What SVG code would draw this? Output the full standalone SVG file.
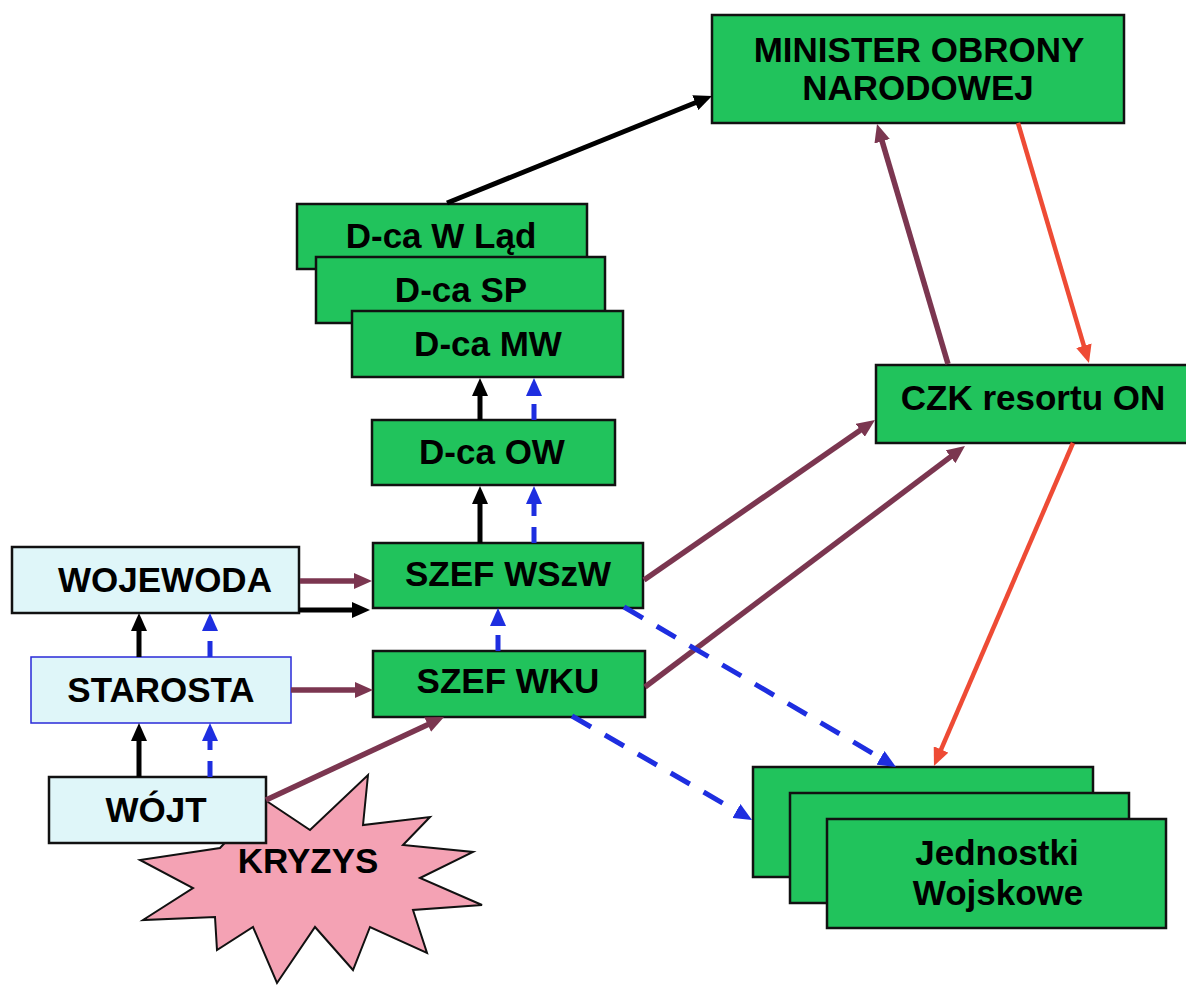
<svg xmlns="http://www.w3.org/2000/svg" width="1186" height="986" viewBox="0 0 1186 986">
  <style>
    .g { fill: #21c35c; stroke: #111; stroke-width: 2.5; }
    .lb { fill: #dff6f9; stroke: #111; stroke-width: 2.5; }
    .lbb { fill: #dff6f9; stroke: #2a2ad8; stroke-width: 1.5; }
    .t { font-family: "Liberation Sans", Arial, sans-serif; font-weight: bold; font-size: 35px; fill: #000; text-anchor: middle; }
    .k { stroke: #000; stroke-width: 5; fill: none; marker-end: url(#ak); }
    .br { stroke: #7b3650; stroke-width: 5.5; fill: none; marker-end: url(#abr); }
    .rd { stroke: #ee4b35; stroke-width: 4.5; fill: none; marker-end: url(#ard); }
    .bl { stroke: #1e2ee0; stroke-width: 5; fill: none; stroke-dasharray: 16 11; marker-end: url(#abl); }
    .bld { stroke-dasharray: 22 16; }
  </style>
  <defs>
    <marker id="ak" markerUnits="userSpaceOnUse" viewBox="0 0 18 16" markerWidth="18" markerHeight="16" refX="4" refY="8" orient="auto"><path d="M0,0 L18,8 L0,16 z" fill="#000"/></marker>
    <marker id="abr" markerUnits="userSpaceOnUse" viewBox="0 0 18 16" markerWidth="18" markerHeight="16" refX="4" refY="8" orient="auto"><path d="M0,0 L18,8 L0,16 z" fill="#7b3650"/></marker>
    <marker id="ard" markerUnits="userSpaceOnUse" viewBox="0 0 18 16" markerWidth="18" markerHeight="16" refX="4" refY="8" orient="auto"><path d="M0,0 L18,8 L0,16 z" fill="#ee4b35"/></marker>
    <marker id="abl" markerUnits="userSpaceOnUse" viewBox="0 0 18 16" markerWidth="18" markerHeight="16" refX="4" refY="8" orient="auto"><path d="M0,0 L18,8 L0,16 z" fill="#1e2ee0"/></marker>
  </defs>
  <rect width="1186" height="986" fill="#fff"/>

  <!-- crisis burst -->
  <g id="kryzys">
    <polygon points="368,775 363,825 430,817 403,845 473,852 420,878 482,905 413,910 427,953 370,927 353,970 315,927 277,983 253,927 217,950 215,917 143,920 193,888 140,860 220,848 265,800 310,830" fill="#f4a2b4" stroke="#111" stroke-width="2"/>
    <text class="t" x="308" y="873">KRYZYS</text>
  </g>

  <g id="minister">
    <rect class="g" x="712" y="15" width="412" height="108"/>
    <text class="t" x="919" y="62">MINISTER OBRONY</text>
    <text class="t" x="918" y="100">NARODOWEJ</text>
  </g>

  <g id="dca-wlad">
    <rect class="g" x="297" y="204" width="290" height="65"/>
    <text class="t" x="441" y="248">D-ca W Ląd</text>
  </g>
  <g id="dca-sp">
    <rect class="g" x="316" y="257" width="289" height="66"/>
    <text class="t" x="461" y="302">D-ca SP</text>
  </g>
  <g id="dca-mw">
    <rect class="g" x="352" y="311" width="271" height="66"/>
    <text class="t" x="488" y="356">D-ca MW</text>
  </g>
  <g id="dca-ow">
    <rect class="g" x="372" y="420" width="243" height="65"/>
    <text class="t" x="492" y="464">D-ca OW</text>
  </g>
  <g id="szef-wszw">
    <rect class="g" x="373" y="543" width="270" height="65"/>
    <text class="t" x="508" y="586">SZEF WSzW</text>
  </g>
  <g id="szef-wku">
    <rect class="g" x="373" y="651" width="272" height="66"/>
    <text class="t" x="508" y="693">SZEF WKU</text>
  </g>

  <g id="wojewoda">
    <rect class="lb" x="12" y="547" width="287" height="66"/>
    <text class="t" x="165" y="592">WOJEWODA</text>
  </g>
  <g id="starosta">
    <rect class="lbb" x="31" y="657" width="260" height="66"/>
    <text class="t" x="161" y="702">STAROSTA</text>
  </g>
  <g id="wojt">
    <rect class="lb" x="49" y="777" width="217" height="66"/>
    <text class="t" x="156" y="822">WÓJT</text>
  </g>

  <g id="czk">
    <rect class="g" x="876" y="365" width="312" height="78"/>
    <text class="t" x="1033" y="410">CZK resortu ON</text>
  </g>

  <g id="jednostki">
    <rect class="g" x="753" y="767" width="340" height="110"/>
    <rect class="g" x="790" y="793" width="339" height="110"/>
    <rect class="g" x="827" y="819" width="339" height="109"/>
    <text class="t" x="997" y="865">Jednostki</text>
    <text class="t" x="998" y="905">Wojskowe</text>
  </g>

  <g id="connectors">
    <!-- reporting up the chain -->
    <line class="k" x1="447" y1="203" x2="699" y2="101.2"/>
    <line class="br" x1="948" y1="364" x2="881" y2="137.4"/>
    <line class="rd" x1="1018" y1="123" x2="1085" y2="349.6"/>
    <line class="br" x1="644" y1="580" x2="863.5" y2="428"/>
    <line class="br" x1="645" y1="687" x2="953.8" y2="454.4"/>
    <line class="rd" x1="1073" y1="443" x2="939.5" y2="753.1"/>
    <line class="bl bld" x1="624" y1="607" x2="883.9" y2="759.9"/>
    <line class="bl bld" x1="572" y1="716" x2="739.9" y2="813"/>
    <line class="br" x1="266" y1="800" x2="431.3" y2="722.9"/>

    <!-- administration to military offices -->
    <line class="br" x1="300" y1="581" x2="358" y2="581"/>
    <line class="k" x1="299" y1="610" x2="356" y2="610"/>
    <line class="br" x1="291" y1="690" x2="359" y2="690"/>

    <!-- vertical chains -->
    <line class="k" x1="139" y1="777" x2="139" y2="737"/>
    <line class="bl" x1="210" y1="777" x2="210" y2="737"/>
    <line class="k" x1="139" y1="657" x2="139" y2="627"/>
    <line class="bl" x1="210" y1="657" x2="210" y2="627"/>
    <line class="bl" x1="498" y1="651" x2="498" y2="622"/>
    <line class="k" x1="480" y1="543" x2="480" y2="500"/>
    <line class="bl" x1="534" y1="543" x2="534" y2="500"/>
    <line class="k" x1="480" y1="420" x2="480" y2="392"/>
    <line class="bl" x1="534" y1="420" x2="534" y2="392"/>
  </g>
</svg>
